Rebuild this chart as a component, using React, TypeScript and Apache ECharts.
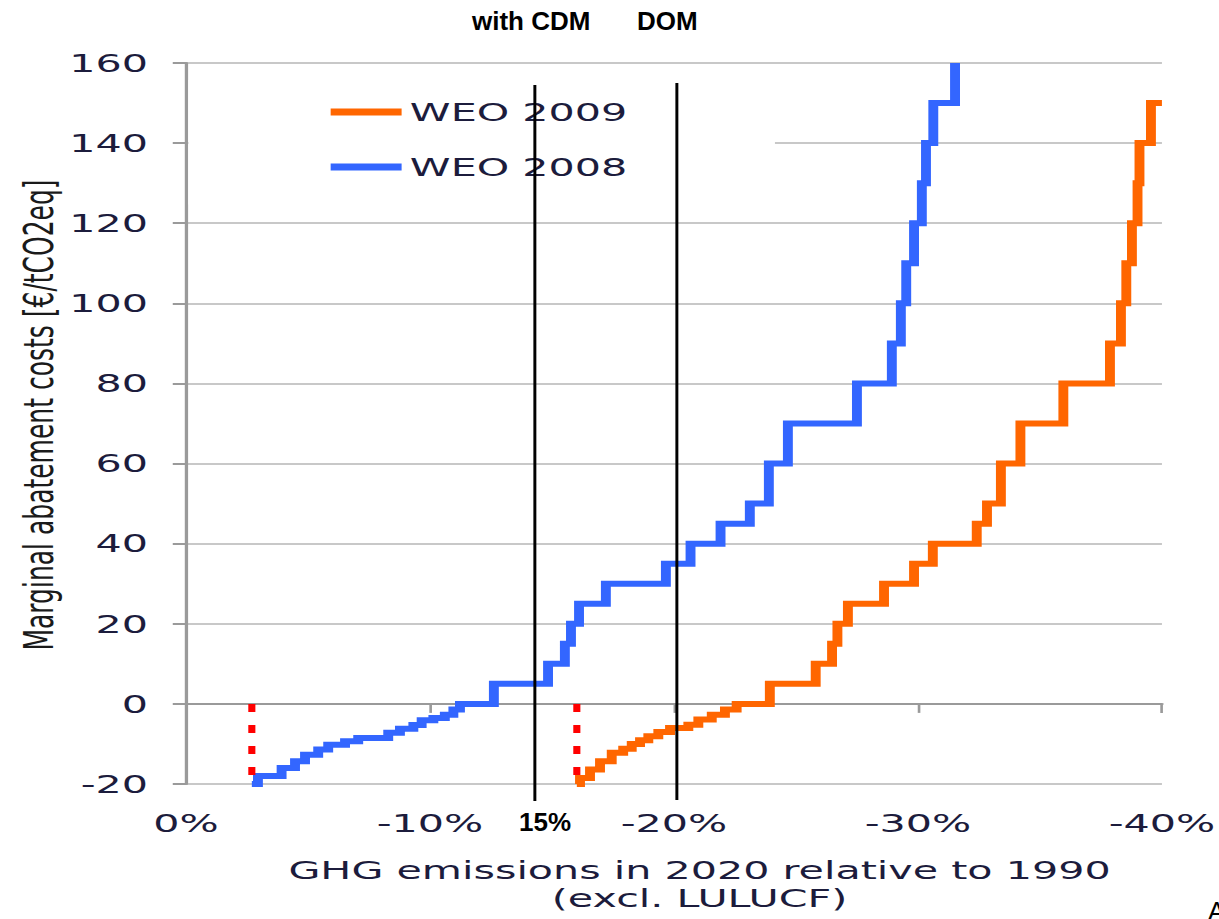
import React, { useEffect, useRef } from 'react';
import * as echarts from 'echarts';

// The reference picture is horizontally stretched; the chart is drawn in an
// unstretched frame and the whole frame is stretched back with CSS.
const S = 1.65;
const W = 739;
const H = 919;

const xTickLabels = ['0%', '-10%', '-20%', '-30%', '-40%'];

const seriesNames = ['WEO 2009', 'WEO 2008'];

// WEO 2008 (blue) step curve: x = reduction in %, y = cost from that x on
const weo2008X = [2.70, 2.95, 3.92, 4.47, 4.88, 5.42, 5.83, 6.52, 7.06, 8.29, 8.77, 9.32, 9.66, 10.14, 10.61, 10.96, 11.23, 12.62, 14.84, 15.53, 15.78, 16.11, 17.21, 19.67, 20.68, 21.91, 23.11, 23.89, 24.67, 27.50, 28.93, 29.30, 29.52, 29.84, 30.16, 30.33, 30.63, 31.52];
const weo2008Y = [-20, -18, -16, -14.3, -12.7, -11.4, -10.2, -9.3, -8.5, -7.2, -6.2, -5.3, -4.1, -3.5, -2.7, -1.4, 0, 5, 10, 15, 20, 25, 30, 35, 40, 45, 50, 60, 70, 80, 90, 100, 110, 120, 130, 140, 150, 160];

// WEO 2009 (orange) step curve
const weo2009X = [16.02, 16.15, 16.56, 16.97, 17.45, 17.92, 18.27, 18.61, 18.95, 19.36, 19.84, 20.59, 21.00, 21.55, 22.09, 22.57, 23.93, 25.81, 26.48, 26.70, 27.13, 28.61, 29.84, 30.61, 32.41, 32.83, 33.40, 34.20, 35.96, 37.87, 38.32, 38.54, 38.77, 39.00, 39.08, 39.55, 40.00];
const weo2009Y = [-20, -18.5, -16.4, -14.3, -12.2, -11.2, -10.0, -9.1, -8.1, -7.0, -6.0, -5.2, -3.9, -2.7, -1.4, 0, 5, 10, 15, 20, 25, 30, 35, 40, 45, 50, 60, 70, 80, 90, 100, 110, 120, 130, 140, 150, 150];

// red dotted start markers (from 0 down to -20)
const startMarkersX = [2.7, 16.02];
const startMarkerRange = [0, -20];

// hand-drawn annotation lines
const cdmX = 14.3;
const domX = 20.12;

const zip = (xs: number[], ys: number[]) => xs.map((x, i) => [x, ys[i]]);

export default function App() {
  const ref = useRef<HTMLDivElement>(null);

  useEffect(() => {
    const chart = echarts.init(ref.current!, null, { renderer: 'svg' });
    const font = 'DejaVu Sans';
    const textColor = '#1c1c3c';
    const axisGray = '#9a9a9a';

    chart.setOption({
      animation: false,
      backgroundColor: '#ffffff',
      grid: {
        left: 112.7,
        right: 34.8,
        top: 63,
        bottom: 135,
        containLabel: false,
        outerBoundsMode: 'none',
      },
      legend: {
        data: seriesNames,
        orient: 'vertical',
        left: 114.2,
        top: 80,
        padding: [19.5, 89.5, 25, 86.2],
        backgroundColor: '#ffffff',
        icon: 'rect',
        itemWidth: 43,
        itemHeight: 7,
        itemGap: 30,
        itemStyle: { borderWidth: 0 },
        textStyle: { fontFamily: font, fontSize: 25, lineHeight: 25, color: textColor },
      },
      xAxis: [
        {
          type: 'value',
          min: 0,
          max: 40,
          interval: 10,
          position: 'bottom',
          axisLine: { show: false, onZero: false },
          axisTick: { show: false },
          splitLine: { show: false },
          axisLabel: {
            show: true,
            margin: 27,
            fontFamily: font,
            fontSize: 25,
            color: textColor,
            showMinLabel: true,
            showMaxLabel: true,
            formatter: (v: number) => xTickLabels[Math.round(v / 10)],
          },
          name: 'GHG emissions in 2020 relative to 1990\n(excl. LULUCF)',
          nameLocation: 'middle',
          nameGap: 72,
          nameMoveOverlap: false,
          nameTextStyle: {
            fontFamily: font,
            fontSize: 25,
            lineHeight: 28,
            color: textColor,
            padding: [0, 0, 0, 31],
          },
        },
        {
          type: 'value',
          min: 0,
          max: 40,
          interval: 10,
          position: 'bottom',
          axisLine: { show: true, onZero: true, lineStyle: { color: axisGray, width: 2.2 } },
          axisTick: { show: true, length: 9, lineStyle: { color: axisGray, width: 1.6 } },
          splitLine: { show: false },
          axisLabel: { show: false },
        },
      ],
      yAxis: {
        type: 'value',
        min: -20,
        max: 160,
        interval: 20,
        axisLine: { show: true, onZero: false, lineStyle: { color: axisGray, width: 2 } },
        axisTick: { show: true, length: 8, lineStyle: { color: axisGray, width: 2 } },
        splitLine: { show: true, lineStyle: { color: '#c8c8c8', width: 2 } },
        axisLabel: {
          margin: 23,
          fontFamily: font,
          fontSize: 25,
          color: textColor,
        },
        name: 'Marginal abatement costs [€/tCO2eq]',
        nameLocation: 'middle',
        nameGap: 77,
        nameMoveOverlap: false,
        nameTextStyle: {
          fontFamily: font,
          fontSize: 25,
          color: '#1a1a1a',
          padding: [0, 0, 0, 17],
        },
      },
      series: [
        {
          name: 'WEO 2009',
          type: 'line',
          xAxisIndex: 0,
          step: 'end',
          data: zip(weo2009X, weo2009Y),
          showSymbol: false,
          symbol: 'none',
          color: '#ff6600',
          lineStyle: { color: '#ff6600', width: 6, cap: 'butt', join: 'miter' },
          z: 3,
        },
        {
          name: 'WEO 2008',
          type: 'line',
          xAxisIndex: 0,
          step: 'end',
          data: zip(weo2008X, weo2008Y),
          showSymbol: false,
          symbol: 'none',
          color: '#3366ff',
          lineStyle: { color: '#3366ff', width: 6, cap: 'butt', join: 'miter' },
          z: 3,
        },
        ...startMarkersX.map((x, i) => ({
          name: 'start' + i,
          type: 'line',
          xAxisIndex: 0,
          data: startMarkerRange.map((y) => [x, y]),
          showSymbol: false,
          symbol: 'none',
          color: '#ff0000',
          lineStyle: { color: '#ff0000', width: 4.3, type: [8, 13], cap: 'butt' },
          z: 4,
        })),
      ],
    });

    const pxCdm = chart.convertToPixel({ xAxisIndex: 0 }, cdmX) as number;
    const pxDom = chart.convertToPixel({ xAxisIndex: 0 }, domX) as number;
    const annFont = 'Liberation Sans';
    const inv = 1 / S;

    chart.setOption({
      graphic: [
        {
          type: 'line',
          z: 100,
          shape: { x1: pxCdm, y1: 85, x2: pxCdm, y2: 801 },
          style: { stroke: '#000000', lineWidth: 1.8 },
        },
        {
          type: 'line',
          z: 100,
          shape: { x1: pxDom, y1: 83, x2: pxDom, y2: 800 },
          style: { stroke: '#000000', lineWidth: 1.8 },
        },
        {
          type: 'text',
          z: 100,
          x: 472 / S,
          y: 21,
          scaleX: inv,
          style: {
            text: 'with CDM',
            fontFamily: annFont,
            fontSize: 26,
            fontWeight: 'bold',
            fill: '#000000',
            align: 'left',
            verticalAlign: 'middle',
            textAlign: 'left',
            textVerticalAlign: 'middle',
          },
        },
        {
          type: 'text',
          z: 100,
          x: 637 / S,
          y: 21,
          scaleX: inv,
          style: {
            text: 'DOM',
            fontFamily: annFont,
            fontSize: 26,
            fontWeight: 'bold',
            fill: '#000000',
            align: 'left',
            verticalAlign: 'middle',
            textAlign: 'left',
            textVerticalAlign: 'middle',
          },
        },
        {
          type: 'text',
          z: 100,
          x: 519 / S,
          y: 822,
          scaleX: inv,
          style: {
            text: '15%',
            fontFamily: annFont,
            fontSize: 26,
            fontWeight: 'bold',
            fill: '#000000',
            align: 'left',
            verticalAlign: 'middle',
            textAlign: 'left',
            textVerticalAlign: 'middle',
          },
        },
        {
          type: 'text',
          z: 100,
          x: 1208 / S,
          y: 911,
          scaleX: inv,
          style: {
            text: 'A',
            fontFamily: annFont,
            fontSize: 26,
            fill: '#000000',
            align: 'left',
            verticalAlign: 'middle',
            textAlign: 'left',
            textVerticalAlign: 'middle',
          },
        },
      ],
    });

    return () => {
      chart.dispose();
    };
  }, []);

  return (
    <div
      ref={ref}
      style={{
        position: 'fixed',
        left: 0,
        top: 0,
        width: W,
        height: H,
        transform: `scaleX(${S})`,
        transformOrigin: '0 0',
      }}
    />
  );
}
